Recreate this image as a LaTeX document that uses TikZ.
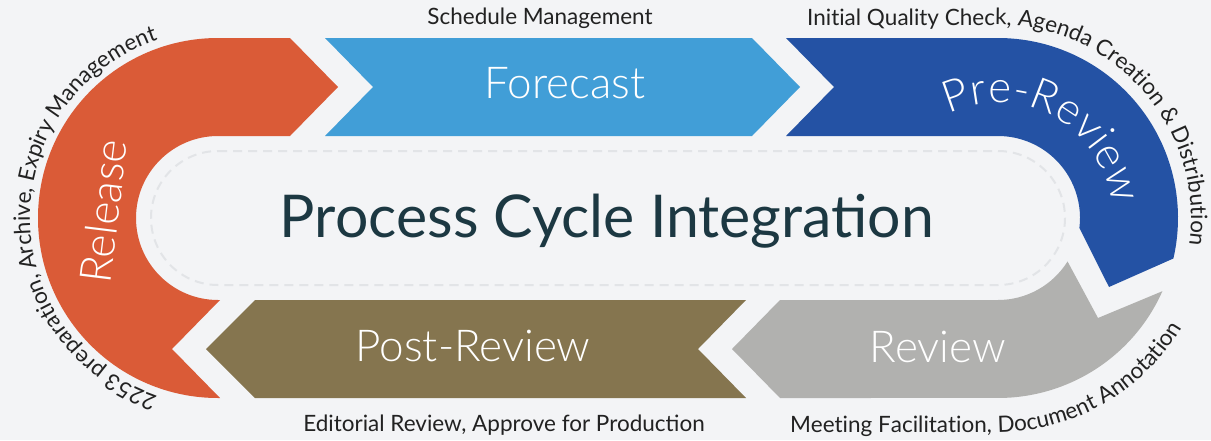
\documentclass[tikz,border=0pt]{standalone}
\usepackage{fontspec}
\setmainfont{Lato}
\newfontfamily\lightfont{Lato Light}
\usetikzlibrary{decorations.text}

\definecolor{bgcol}{HTML}{F3F4F6}
\definecolor{releasecol}{HTML}{DA5B37}
\definecolor{forecastcol}{HTML}{419ED7}
\definecolor{prereviewcol}{HTML}{2452A4}
\definecolor{reviewcol}{HTML}{B1B1AF}
\definecolor{postreviewcol}{HTML}{85754F}
\definecolor{dashcol}{HTML}{E2E4E7}
\definecolor{titlecol}{HTML}{1C3842}
\definecolor{notecol}{HTML}{222222}

\newcommand\stagefont{\lightfont\fontsize{44}{44}\selectfont}
\newcommand\notefont{\fontsize{22.5}{22.5}\selectfont}

\tikzset{
stage/.style={font=\stagefont, text=white, inner sep=0pt},
note/.style={font=\notefont, text=notecol, inner sep=0pt},
notepath/.style={decorate, decoration={text along path, text={|\notefont\color{notecol}|#1}}},
}

\begin{document}
\begin{tikzpicture}[x=1pt,y=1pt]
\fill[bgcol] (0,-222) rectangle (1211,218);
\useasboundingbox (0,-222) rectangle (1211,218);
\coordinate (lc) at (218,0);
\coordinate (rc) at (998,0);

\fill[releasecol] (290,180)--(338,131)--(290,82)--(218,82) arc[start angle=90, end angle=270, radius=82]
  --(220,-82)--(172,-131)--(220,-180)--(218,-180) arc[start angle=270, end angle=90, radius=180]--cycle;
\fill[forecastcol] (325,180)--(752,180)--(800,131)--(752,82)--(325,82)--(373,131)--cycle;
\fill[prereviewcol] (786,180)--(998,180) arc[start angle=90, end angle=-13, radius=180]
  --(1109,-69)--(1079.4,-10) arc[start angle=-7, end angle=90, radius=82]--(786,82)--(834,131)--cycle;
\fill[reviewcol] (780,-82)--(998,-82) arc[start angle=-90, end angle=-32, radius=82]
  --(1098,-100)--(1162.4,-73.2) arc[start angle=-24, end angle=-90, radius=180]--(780,-180)--(732,-131)--cycle;
\fill[postreviewcol] (255,-82)--(746,-82)--(698,-131)--(746,-180)--(255,-180)--(206,-131)--cycle;

\draw[dashcol, line width=2pt, dash pattern=on 9pt off 6pt] (218,67)--(998,67) arc[start angle=90, end angle=-90, radius=67]
  --(218,-67) arc[start angle=270, end angle=90, radius=67]--cycle;

\node[font=\fontsize{59}{59}\selectfont, text=titlecol, anchor=base] (title) at (607,-19) {Process Cycle Integration};

\node[stage, anchor=base] (forecast) at (565,120) {Forecast};
\node[stage, anchor=base] (postreview) at (473,-143) {Post-Review};
\node[stage, anchor=base] (review) at (938,-144) {Review};
\node[stage, anchor=base, rotate=83] (release) at (119,5) {Release};
\path[decorate, decoration={text along path, text align=center, text={|\stagefont\color{white}|Pre-Review}}]
  (rc) ++(127:115) arc[start angle=127, end angle=-5, radius=115];

\node[note, anchor=base] (schedule) at (540,194) {Schedule Management};
\node[note, anchor=base] (editorial) at (504,-213) {Editorial Review, Approve for Production};
\path[notepath={2253 preparation, Archive, Expiry Management}, decoration={text align=center}]
  (lc) ++(262:188) arc[start angle=262, end angle=98, radius=188];
\path[notepath={Initial Quality Check, Agenda Creation {\&} Distribution}]
  (807,193)--(998,193) arc[start angle=90, end angle=-45, radius=193];
\path[notepath={Meeting Facilitation, Document Annotation}]
  (790,-214)--(998,-214) arc[start angle=-90, end angle=40, radius=214];
\end{tikzpicture}
\end{document}
